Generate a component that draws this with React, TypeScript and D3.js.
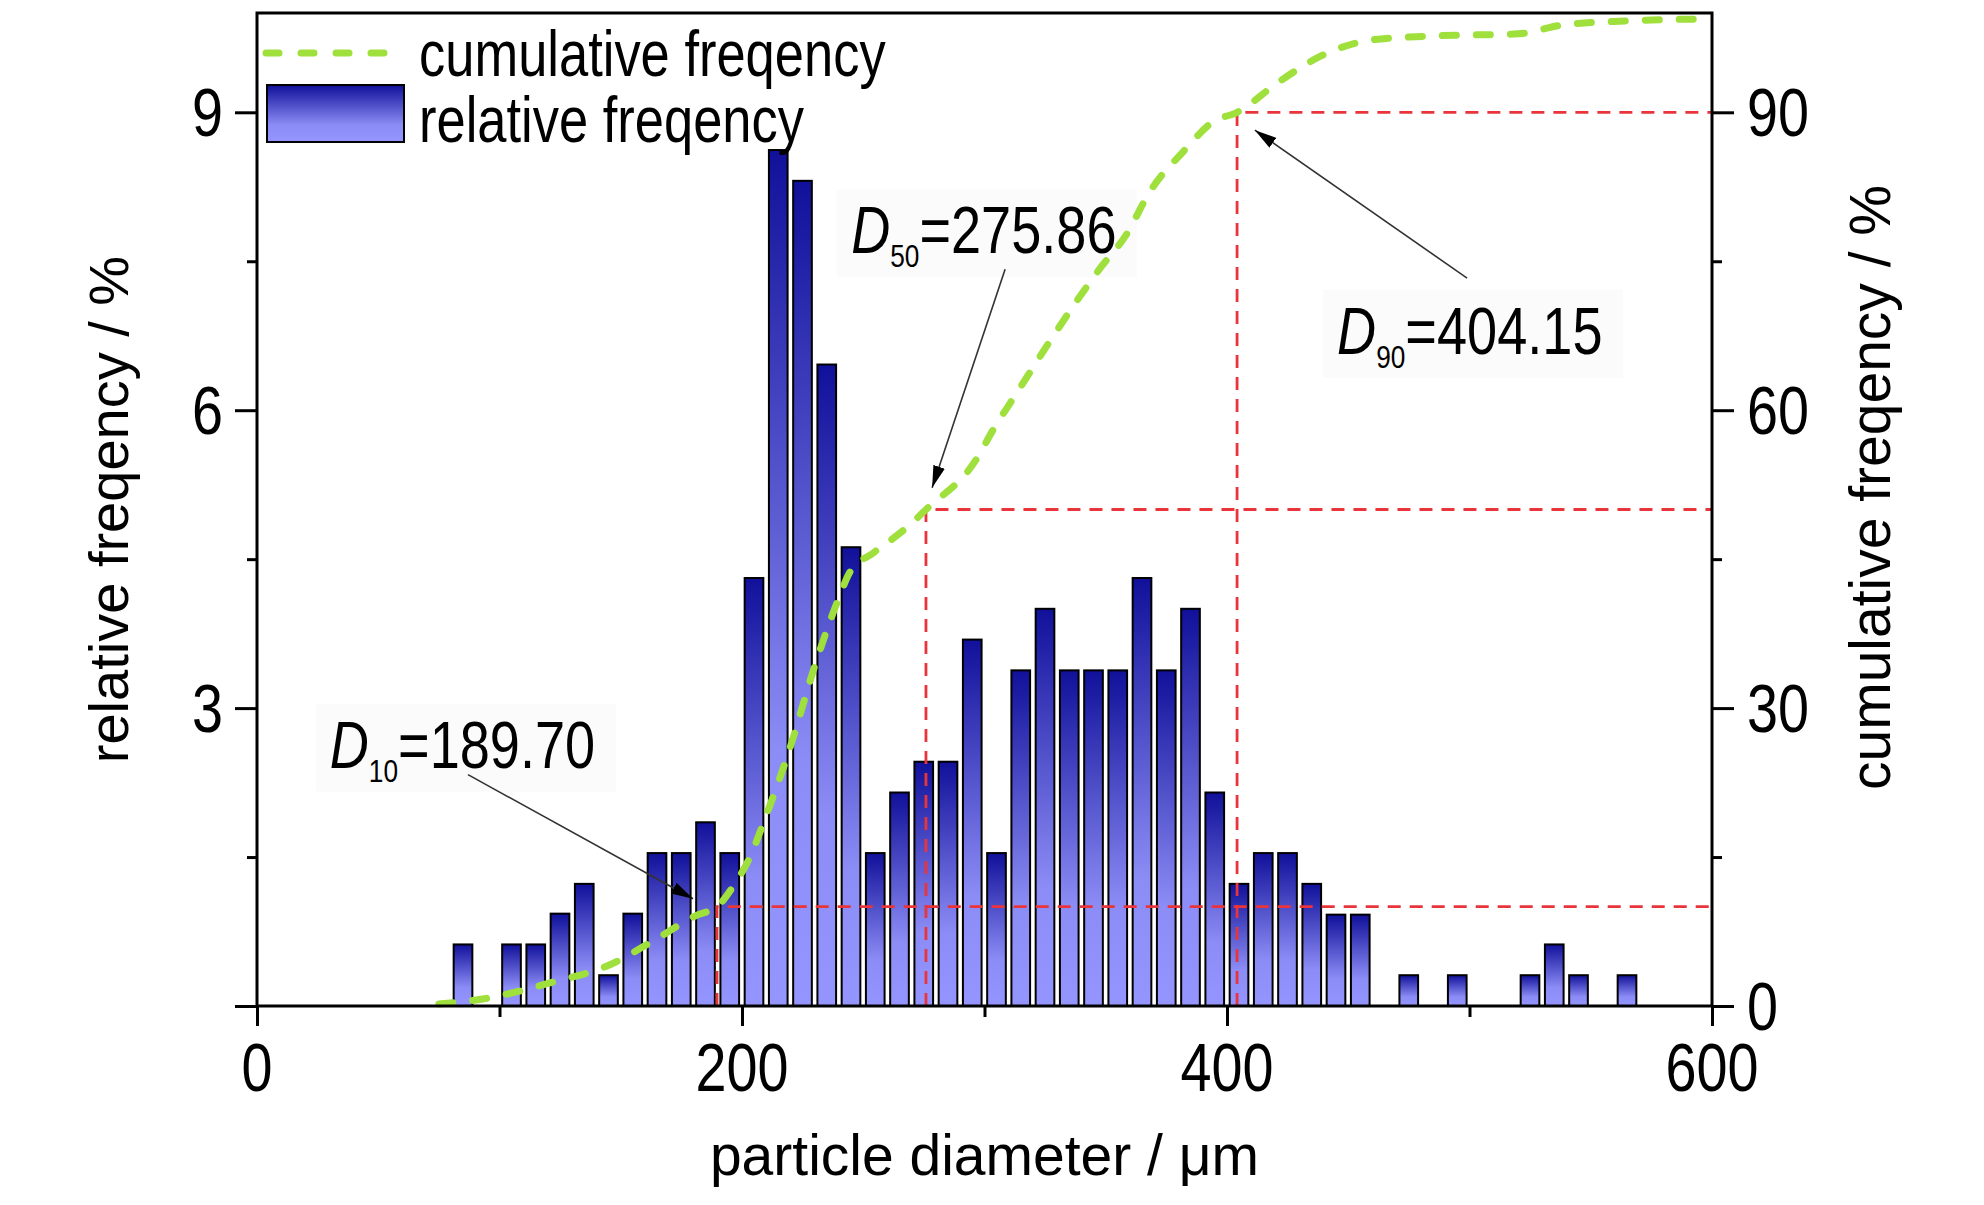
import { useEffect, useRef } from "react";
import * as d3 from "d3";

const WIDTH = 1984;
const HEIGHT = 1205;
const MARGIN = { top: 13, right: 272, bottom: 199, left: 257 };
const NARROW = 0.82; // Arial Narrow look: Liberation Sans squeezed horizontally

// histogram: bin start (µm, bins are 10 µm wide) and relative frequency (%)
const binStarts = [
  80, 100, 110, 120, 130, 140, 150, 160, 170, 180, 190, 200, 210, 220, 230, 240,
  250, 260, 270, 280, 290, 300, 310, 320, 330, 340, 350, 360, 370, 380, 390,
  400, 410, 420, 430, 440, 450, 470, 490, 520, 530, 540, 560,
];
const relFreq = [
  0.62, 0.62, 0.62, 0.93, 1.23, 0.31, 0.93, 1.54, 1.54, 1.85, 1.54, 4.31, 8.62,
  8.31, 6.46, 4.62, 1.54, 2.15, 2.46, 2.46, 3.69, 1.54, 3.38, 4.0, 3.38, 3.38,
  3.38, 4.31, 3.38, 4.0, 2.15, 1.23, 1.54, 1.54, 1.23, 0.92, 0.92, 0.31, 0.31,
  0.31, 0.62, 0.31, 0.31,
];

// cumulative frequency curve (µm, %)
const cumX = [
  75, 93, 103, 122, 145, 163, 181, 189.7, 197, 202.5, 210, 219, 231, 239, 245,
  254, 268, 275.9, 296.5, 303.5, 314, 329.5, 348, 358, 368.7, 381.8, 394.6,
  404.2, 421, 439, 460, 486, 520, 538.5, 564.5, 598,
];
const cumY = [
  0.2, 0.7, 1.2, 2.4, 4.1, 6.5, 9.1, 10, 12.3, 14.6, 19.2, 25.4, 35, 40.5, 43.9,
  45.6, 48.2, 50, 55, 58, 62, 67.9, 74.4, 77.5, 82.2, 86, 89.1, 90, 93, 95.7,
  97.3, 97.7, 97.9, 98.8, 99.2, 99.4,
];

// characteristic diameters
const dNames = ["10", "50", "90"];
const dValues = [189.7, 275.86, 404.15];
const dPercent = [10, 50, 90];
const dLabels = ["189.70", "275.86", "404.15"];
// label anchor (µm, left-axis %), arrow start and arrow tip (µm, left-axis %)
const dLabelPos = [[30, 2.4], [245, 7.58], [445.4, 6.57]];
const dArrowFrom = [[87, 2.33], [308.5, 7.42], [499, 7.33]];
const dArrowTo = [[179.8, 1.08], [278.4, 5.22], [411.5, 8.82]];

const xMajor = [0, 200, 400, 600];
const xMinor = [100, 300, 500];
const yLeftMajor = [0, 3, 6, 9];
const yLeftMinor = [1.5, 4.5, 7.5];
const yRightMajor = [0, 30, 60, 90];
const yRightMinor = [15, 45, 75];

const FONT = "'Liberation Sans', Arial, sans-serif";

const Narrow = ({ x, y, anchor = "start", size, children }: any) => (
  <g transform={`translate(${x},${y}) scale(${NARROW},1)`}>
    <text textAnchor={anchor} fontSize={size} fontFamily={FONT} fill="#000">
      {children}
    </text>
  </g>
);

export default function App() {
  const axesRef = useRef<SVGGElement>(null);
  const boundsWidth = WIDTH - MARGIN.left - MARGIN.right;
  const boundsHeight = HEIGHT - MARGIN.top - MARGIN.bottom;

  const xScale = d3.scaleLinear().domain([0, 600]).range([0, boundsWidth]);
  const yScale = d3.scaleLinear().domain([0, 10]).range([boundsHeight, 0]);
  const yRight = d3.scaleLinear().domain([0, 100]).range([boundsHeight, 0]);

  useEffect(() => {
    const g = d3.select(axesRef.current);
    g.selectAll("*").remove();

    const style = (sel: any) => {
      sel.selectAll(".domain").remove();
      sel.selectAll(".tick line").attr("stroke", "#000").attr("stroke-width", 3);
    };

    g.append("g")
      .attr("transform", `translate(0,${boundsHeight})`)
      .call(d3.axisBottom(xScale).tickValues(xMajor).tickSize(20).tickFormat(() => ""))
      .call(style);
    g.append("g")
      .attr("transform", `translate(0,${boundsHeight})`)
      .call(d3.axisBottom(xScale).tickValues(xMinor).tickSize(11).tickFormat(() => ""))
      .call(style);
    g.append("g")
      .call(d3.axisLeft(yScale).tickValues(yLeftMajor).tickSize(22).tickFormat(() => ""))
      .call(style);
    g.append("g")
      .call(d3.axisLeft(yScale).tickValues(yLeftMinor).tickSize(10).tickFormat(() => ""))
      .call(style);
    g.append("g")
      .attr("transform", `translate(${boundsWidth},0)`)
      .call(d3.axisRight(yRight).tickValues(yRightMajor).tickSize(22).tickFormat(() => ""))
      .call(style);
    g.append("g")
      .attr("transform", `translate(${boundsWidth},0)`)
      .call(d3.axisRight(yRight).tickValues(yRightMinor).tickSize(10).tickFormat(() => ""))
      .call(style);

    // frame
    g.append("rect")
      .attr("x", 0)
      .attr("y", 0)
      .attr("width", boundsWidth)
      .attr("height", boundsHeight)
      .attr("fill", "none")
      .attr("stroke", "#000")
      .attr("stroke-width", 3);
  }, [boundsWidth, boundsHeight]);

  const cumData = cumX.map((x, i) => [x, cumY[i]] as [number, number]);
  const cumPath = d3
    .line<[number, number]>()
    .x((d) => xScale(d[0]))
    .y((d) => yRight(d[1]))
    .curve(d3.curveMonotoneX)(cumData);

  const GREEN = "#9fe03c";
  const RED = "#e8343a";

  return (
    <svg
      width={WIDTH}
      height={HEIGHT}
      style={{ position: "absolute", left: 0, top: 0, background: "#fff" }}
    >
      <defs>
        <linearGradient id="barGrad" x1="0" x2="0" y1="0" y2="1">
          <stop offset="0%" stopColor="#10109a" />
          <stop offset="70%" stopColor="#8c8cf6" />
          <stop offset="100%" stopColor="#9595ff" />
        </linearGradient>
        <marker
          id="arrowHead"
          viewBox="0 0 22 12"
          refX="22"
          refY="6"
          markerWidth="22"
          markerHeight="12"
          markerUnits="userSpaceOnUse"
          orient="auto"
        >
          <path d="M0,0 L22,6 L0,12 Z" fill="#000" />
        </marker>
      </defs>

      <g transform={`translate(${MARGIN.left},${MARGIN.top})`}>
        {/* bars */}
        {binStarts.map((s, i) => (
          <rect
            key={s}
            x={xScale(s + 1.1)}
            y={yScale(relFreq[i])}
            width={xScale(s + 8.8) - xScale(s + 1.1)}
            height={yScale(0) - yScale(relFreq[i])}
            fill="url(#barGrad)"
            stroke="#000"
            strokeWidth={2}
          />
        ))}

        {/* D10 / D50 / D90 guides */}
        {dValues.map((v, i) => (
          <path
            key={dNames[i]}
            d={`M${xScale(v)},${yRight(0)} V${yRight(dPercent[i])} H${xScale(600)}`}
            fill="none"
            stroke={RED}
            strokeWidth={2.8}
            strokeDasharray="13 9"
          />
        ))}

        {/* annotation boxes */}
        {dNames.map((n, i) => (
          <rect
            key={n}
            x={xScale(dLabelPos[i][0]) - 14}
            y={yScale(dLabelPos[i][1]) - 64}
            width={300}
            height={88}
            fill="#fbfbfb"
          />
        ))}

        {/* cumulative curve */}
        <path
          d={cumPath ?? ""}
          fill="none"
          stroke={GREEN}
          strokeWidth={7}
          strokeLinecap="round"
          strokeDasharray="14 20"
        />

        {/* annotations */}
        {dNames.map((n, i) => (
          <g key={n}>
            <Narrow x={xScale(dLabelPos[i][0])} y={yScale(dLabelPos[i][1])} size={66}>
              <tspan fontStyle="italic">D</tspan>
              <tspan fontSize={32} dy={14}>{n}</tspan>
              <tspan dy={-14}>={dLabels[i]}</tspan>
            </Narrow>
            <line
              x1={xScale(dArrowFrom[i][0])}
              y1={yScale(dArrowFrom[i][1])}
              x2={xScale(dArrowTo[i][0])}
              y2={yScale(dArrowTo[i][1])}
              stroke="#333"
              strokeWidth={1.6}
              markerEnd="url(#arrowHead)"
            />
          </g>
        ))}

        {/* legend */}
        <line
          x1={9}
          x2={132}
          y1={40}
          y2={40}
          stroke={GREEN}
          strokeWidth={7}
          strokeLinecap="round"
          strokeDasharray="13 22"
        />
        <rect x={10} y={72} width={137} height={57} fill="url(#barGrad)" stroke="#000" strokeWidth={2} />
        <Narrow x={162} y={63} size={64}>cumulative freqency</Narrow>
        <Narrow x={162} y={129} size={64}>relative freqency</Narrow>

        <g ref={axesRef} />

        {/* tick labels */}
        {xMajor.map((t) => (
          <Narrow key={t} x={xScale(t)} y={boundsHeight + 85} size={68} anchor="middle">
            {t}
          </Narrow>
        ))}
        {yLeftMajor
          .filter((t) => t > 0)
          .map((t) => (
            <Narrow key={t} x={-34} y={yScale(t) + 24} size={68} anchor="end">
              {t}
            </Narrow>
          ))}
        {yRightMajor.map((t) => (
          <Narrow key={t} x={boundsWidth + 35} y={yRight(t) + 24} size={68}>
            {t}
          </Narrow>
        ))}

        {/* axis titles */}
        <text
          x={boundsWidth / 2}
          y={boundsHeight + 169}
          textAnchor="middle"
          fontSize={57}
          fontFamily={FONT}
        >
          particle diameter / μm
        </text>
        <text
          transform={`translate(${-129},${boundsHeight / 2}) rotate(-90)`}
          textAnchor="middle"
          fontSize={56}
          fontFamily={FONT}
        >
          relative freqency / %
        </text>
        <text
          transform={`translate(${boundsWidth + 178},${boundsHeight / 2 - 22}) rotate(-90)`}
          textAnchor="middle"
          fontSize={57}
          fontFamily={FONT}
        >
          cumulative freqency / %
        </text>
      </g>
    </svg>
  );
}
